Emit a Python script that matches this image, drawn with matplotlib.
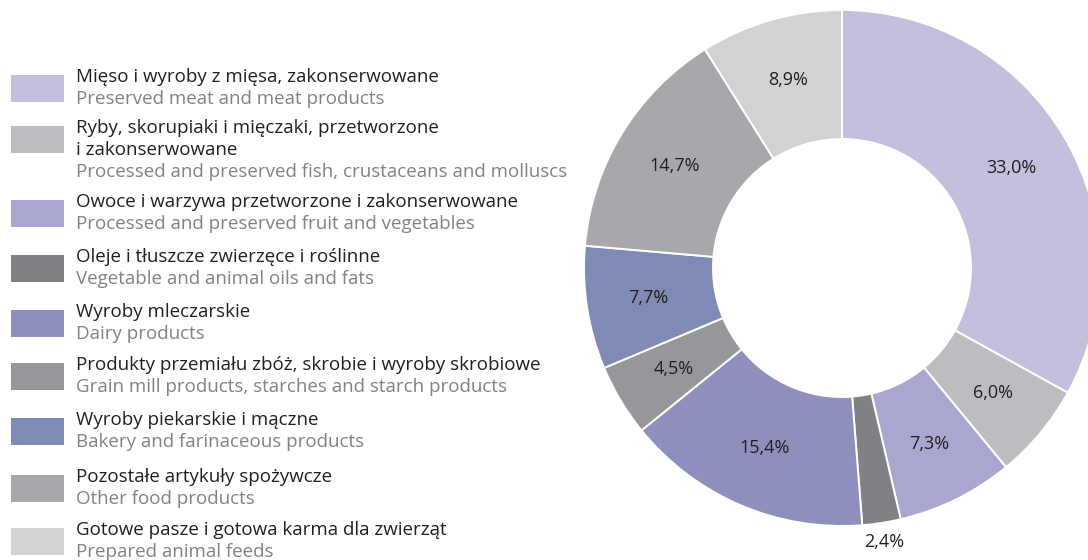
import matplotlib
matplotlib.use("Agg")
import matplotlib.pyplot as plt
from matplotlib.patches import Rectangle
import numpy as np

plt.rcParams['font.family'] = ['Open Sans', 'DejaVu Sans']

labels_pl = [
    "Mięso i wyroby z mięsa, zakonserwowane",
    "Ryby, skorupiaki i mięczaki, przetworzone\ni zakonserwowane",
    "Owoce i warzywa przetworzone i zakonserwowane",
    "Oleje i tłuszcze zwierzęce i roślinne",
    "Wyroby mleczarskie",
    "Produkty przemiału zbóż, skrobie i wyroby skrobiowe",
    "Wyroby piekarskie i mączne",
    "Pozostałe artykuły spożywcze",
    "Gotowe pasze i gotowa karma dla zwierząt",
]
labels_en = [
    "Preserved meat and meat products",
    "Processed and preserved fish, crustaceans and molluscs",
    "Processed and preserved fruit and vegetables",
    "Vegetable and animal oils and fats",
    "Dairy products",
    "Grain mill products, starches and starch products",
    "Bakery and farinaceous products",
    "Other food products",
    "Prepared animal feeds",
]
values = [33.0, 6.0, 7.3, 2.4, 15.4, 4.5, 7.7, 14.7, 8.9]
colors = ["#C3BFDC", "#BCBDC0", "#A9A7CF", "#808185", "#8F8FBD",
          "#96979A", "#7F8AB5", "#A7A8AB", "#D1D2D4"]

W, H = 1088, 560
fig = plt.figure(figsize=(W / 100, H / 100), dpi=100)
ax = fig.add_axes([0, 0, 1, 1])

cx, cy, R = 842, H - 268, 258
wedges, _ = ax.pie(values, colors=colors, startangle=90, counterclock=False,
                   center=(cx, cy), radius=R,
                   wedgeprops=dict(width=R * 0.5, edgecolor='white', linewidth=1.4),
                   frame=True)
ax.set_xlim(0, W)
ax.set_ylim(0, H)
ax.set_aspect('equal')
ax.axis('off')

for w, v in zip(wedges, values):
    ang = np.deg2rad((w.theta1 + w.theta2) / 2)
    r = R * 0.76 if v >= 3 else R * 1.075
    x = cx + r * np.cos(ang)
    y = cy + r * np.sin(ang)
    ax.text(x, y, f"{v:.1f}%".replace('.', ','), ha='center', va='center',
            fontsize=13, color='#231F20')

# legend
tops = [75, 126, 200, 255, 310, 363, 418, 475, 528]
fs = 13.5
for top, c, pl, en in zip(tops, colors, labels_pl, labels_en):
    ax.add_patch(Rectangle((11, H - top - 27), 53, 27, facecolor=c, edgecolor='none'))
    lines = pl.split('\n')
    for i, ln in enumerate(lines):
        ax.text(76, H - top - 7 - 22 * i, ln, ha='left', va='baseline', fontsize=fs,
                color='#231F20')
    ax.text(76, H - top - 29 - 22 * (len(lines) - 1), en, ha='left', va='baseline',
            fontsize=fs, color='#808285')

fig.savefig("out.png", dpi=100)
